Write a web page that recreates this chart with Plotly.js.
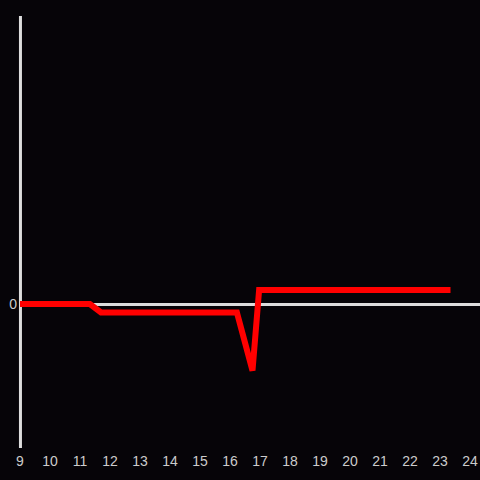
<!DOCTYPE html>
<html>
<head>
<meta charset="utf-8">
<script src="https://cdn.plot.ly/plotly-3.0.1.min.js"></script>
<style>html,body{margin:0;padding:0;background:#060408;}</style>
</head>
<body>
<div id="chart" style="width:480px;height:480px;"></div>
<script>
const hours = [9, 11.33, 11.7, 16.23, 16.75, 16.97, 23.35];
const values = [0, 0, -0.28, -0.28, -2.22, 0.47, 0.47];
const xTicks = [9,10,11,12,13,14,15,16,17,18,19,20,21,22,23,24];
const yTicks = [0];

Plotly.newPlot('chart', [{
  x: hours, y: values, type: 'scatter', mode: 'lines',
  line: {color: '#ff0000', width: 6},
  hoverinfo: 'skip'
}], {
  width: 480, height: 480,
  paper_bgcolor: '#060408', plot_bgcolor: '#060408',
  margin: {l: 20, r: 0, t: 16, b: 32},
  showlegend: false,
  font: {family: 'Liberation Sans, Arial, sans-serif', size: 14, color: '#cccccc'},
  xaxis: {range: [9, 24.333], tickvals: xTicks, ticktext: xTicks.map(String),
    showgrid: false, zeroline: false, showline: false, ticks: '', ticklabelstandoff: 3},
  yaxis: {range: [-4.8, 9.6], tickvals: yTicks, ticktext: ['0'],
    showgrid: false, zeroline: true, zerolinecolor: '#dddddd', zerolinewidth: 3,
    showline: false, ticks: '', ticklabelstandoff: 2},
  shapes: [{type: 'line', xref: 'paper', x0: 0.001, x1: 0.001, yref: 'paper', y0: 0, y1: 1,
    line: {color: '#dddddd', width: 3}, layer: 'below'}]
}, {displayModeBar: false, staticPlot: true});
</script>
</body>
</html>
